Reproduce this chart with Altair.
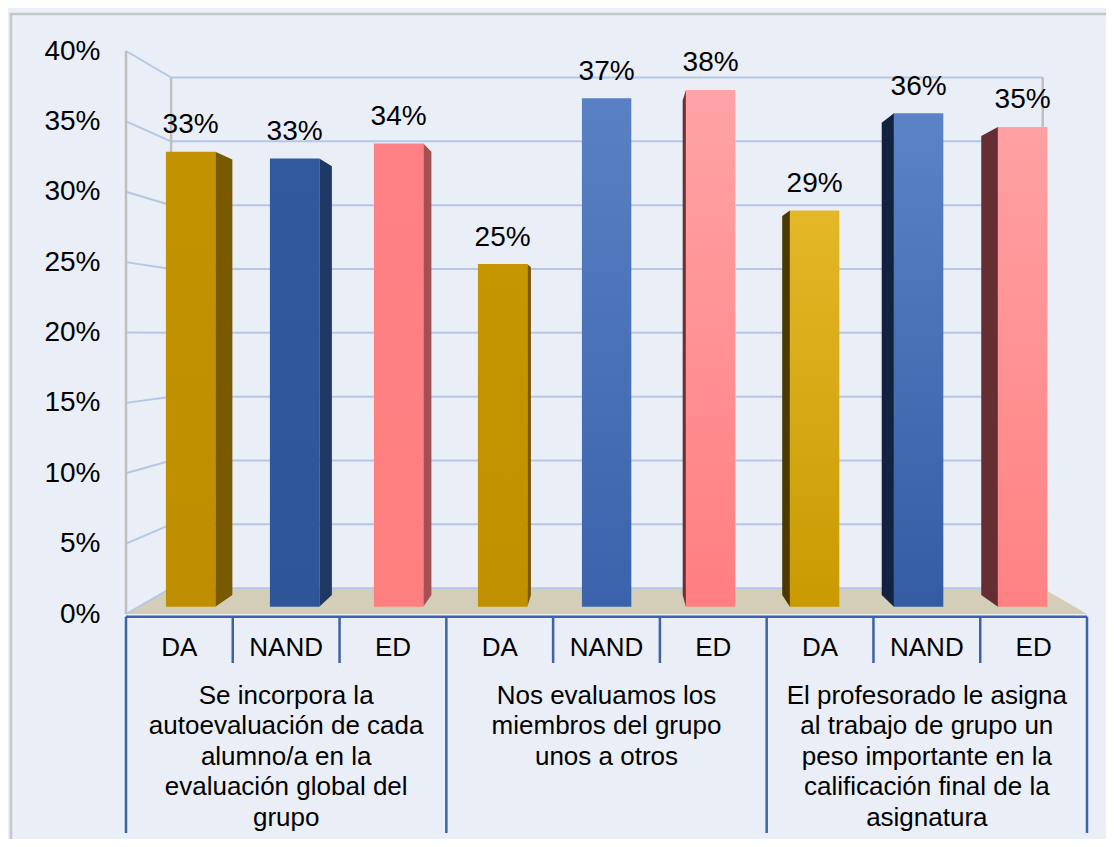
import altair as alt
import pandas as pd

# ---------------- data ----------------
groups = [
    "Se incorpora la\nautoevaluación de cada\nalumno/a en la\nevaluación global del\ngrupo",
    "Nos evaluamos los\nmiembros del grupo\nunos a otros",
    "El profesorado le asigna\nal trabajo de grupo un\npeso importante en la\ncalificación final de la\nasignatura",
]
answers = ["DA", "NAND", "ED"]
values_g1 = [33.2, 32.7, 33.8]
values_g2 = [25.0, 37.1, 37.7]
values_g3 = [28.9, 36.0, 35.0]
y_ticks = [0, 5, 10, 15, 20, 25, 30, 35, 40]

# ---------------- styles ----------------
front_top = ["#C29200", "#31599C", "#FF8186",
             "#C69600", "#5A80C4", "#FFA3A6",
             "#E4B728", "#5B83C6", "#FFA0A3"]
front_bottom = ["#BE8E00", "#2E5597", "#FF7F7F",
                "#C09000", "#3A63AB", "#FF7E80",
                "#C99A00", "#345CA3", "#FF8282"]
side_colors = ["#7A5A00", "#203864", "#A45153",
               "#7A5A00", "#203864", "#6B2F35",
               "#4B3900", "#13223F", "#652E33"]
BG = "#EAEEF7"
GRID = "#B4C7E7"
WALL = "#BFBFBF"
FLOOR = "#D4CEB8"
AXIS_BLUE = "#3D62AA"
FONT = "Liberation Sans"

# perspective (pseudo-3D) style constants, in data units
UCX, VCY = 4.542, 19.75
F_FRONT, F_BACK, F_WALL = 0.974, 0.932, 0.907
HALF_W = 0.2375


def proj(u, v, f):
    return UCX + f * (u - UCX), VCY + f * (v - VCY)


all_vals = values_g1 + values_g2 + values_g3
rows, side_rows = [], []
for k, val in enumerate(all_vals):
    u = k + 0.5
    x1, y0 = proj(u - HALF_W, 0, F_FRONT)
    x2, yt = proj(u + HALF_W, val, F_FRONT)
    xc, _ = proj(u, val, F_FRONT)
    rows.append(dict(id=k, x=x1, x2=x2, y=y0, y2=yt, xc=xc,
                     label=f"{round(val)}%", ans=answers[k % 3]))
    if u + HALF_W < UCX:
        e = u + HALF_W
    elif u - HALF_W > UCX:
        e = u - HALF_W
    else:
        e = None
    if e is not None:
        for f in (F_FRONT, F_BACK):
            sx, st = proj(e, val, f)
            _, sb = proj(e, 0, f)
            side_rows.append(dict(id=k, x=sx, yt=st, yb=sb))
bars = pd.DataFrame(rows)
sides = pd.DataFrame(side_rows)

grid_rows = []
for t in y_ticks:
    bx1, by = proj(0, t, F_WALL)
    bx2, _ = proj(9, t, F_WALL)
    grid_rows.append(dict(t=t, fx=0, bx1=bx1, bx2=bx2, by=by))
grid = pd.DataFrame(grid_rows)

bl_x, bl_y0 = proj(0, 0, F_WALL)
br_x, _ = proj(9, 0, F_WALL)
_, bl_y1 = proj(0, 40, F_WALL)
floor = pd.DataFrame(dict(x=[0, bl_x, br_x, 9], y=[0, bl_y0, bl_y0, 0], y2=[0, 0, 0, 0]))
walls = pd.DataFrame(dict(x=[0, bl_x, br_x], y=[0, bl_y0, bl_y0], y2=[40, bl_y1, bl_y1]))

cells = pd.DataFrame(dict(x=[k + 0.5 for k in range(9)], t=[answers[k % 3] for k in range(9)]))
grp = pd.DataFrame(dict(x=[1.5, 4.5, 7.5], t=groups))
inner_ticks = pd.DataFrame(dict(x=[1, 2, 4, 5, 7, 8]))
group_ticks = pd.DataFrame(dict(x=[0, 3, 6, 9]))
one = pd.DataFrame(dict(x=[0], x2=[9]))

# ---------------- scales ----------------
xs = alt.Scale(domain=[0, 9], nice=False, zero=False)
ys = alt.Scale(domain=[0, 40], nice=False, zero=False)
yaxis = alt.Axis(values=y_ticks, labelExpr="datum.value + '%'", domain=False, ticks=False,
                 grid=False, labelFontSize=28, labelFont=FONT, labelColor="black",
                 labelPadding=26, title=None)


def X(f):
    return alt.X(f, type="quantitative", scale=xs, axis=None)


def Y(f):
    return alt.Y(f, type="quantitative", scale=ys, axis=yaxis, stack=None)


layers = []

# frame
layers.append(alt.Chart(one).mark_rect(fillOpacity=0, stroke="#C6C6C6", strokeWidth=2.5).encode(
    x=alt.value(-115), x2=alt.value(1300), y=alt.value(-37), y2=alt.value(1300)))

# floor
layers.append(alt.Chart(floor).mark_area(color=FLOOR, opacity=1).encode(
    x=X("x"), y=Y("y"), y2="y2"))

# back wall grid
layers.append(alt.Chart(grid).mark_rule(color=GRID, strokeWidth=2).encode(
    x=X("bx1"), x2="bx2", y=Y("by")))
# side wall diagonals
layers.append(alt.Chart(grid).mark_rule(color=GRID, strokeWidth=2).encode(
    x=X("fx"), x2="bx1", y=Y("t"), y2="by"))
# wall verticals
layers.append(alt.Chart(walls).mark_rule(color=WALL, strokeWidth=2.5).encode(
    x=X("x"), y=Y("y"), y2="y2"))

# bar side faces
layers.append(alt.Chart(sides).mark_area(opacity=1).encode(
    x=X("x"), y=Y("yt"), y2="yb",
    color=alt.Color("id:N", scale=alt.Scale(domain=list(range(9)), range=side_colors), legend=None)))

# bar front faces
for k in range(9):
    grad = {"gradient": "linear", "x1": 0, "y1": 0, "x2": 0, "y2": 1,
            "stops": [{"offset": 0, "color": front_top[k]}, {"offset": 1, "color": front_bottom[k]}]}
    layers.append(alt.Chart(bars).transform_filter(alt.datum.id == k).mark_rect(color=grad).encode(
        x=X("x"), x2="x2", y=Y("y"), y2="y2"))

# value labels
layers.append(alt.Chart(bars).mark_text(font=FONT, fontSize=28, color="black",
                                        baseline="alphabetic", dy=-18.5).encode(
    x=X("xc"), y=Y("y2"), text="label:N"))

# category axis lines
layers.append(alt.Chart(one).mark_rule(color=AXIS_BLUE, strokeWidth=2.5).encode(
    x=X("x"), x2="x2", y=alt.value(565.7)))
layers.append(alt.Chart(inner_ticks).mark_rule(color=AXIS_BLUE, strokeWidth=2.5).encode(
    x=X("x"), y=alt.value(565.7), y2=alt.value(612)))
layers.append(alt.Chart(group_ticks).mark_rule(color=AXIS_BLUE, strokeWidth=2.5).encode(
    x=X("x"), y=alt.value(565.7), y2=alt.value(782)))

# category labels
layers.append(alt.Chart(cells).mark_text(font=FONT, fontSize=26, color="black",
                                         baseline="alphabetic").encode(
    x=X("x"), y=alt.value(604.7), text="t:N"))
layers.append(alt.Chart(grp).mark_text(font=FONT, fontSize=26, color="black", baseline="alphabetic",
                                       lineBreak="\n", lineHeight=30.5).encode(
    x=X("x"), y=alt.value(652.5), text="t:N"))

chart = alt.layer(*layers).properties(
    width=961, height=563,
    autosize=alt.AutoSizeParams(type="none"),
    padding={"left": 118, "top": 43, "right": 19, "bottom": 225},
    background=BG,
).configure_view(stroke=None)

chart.save("out.html", embed_options={"renderer": "svg", "actions": False})
